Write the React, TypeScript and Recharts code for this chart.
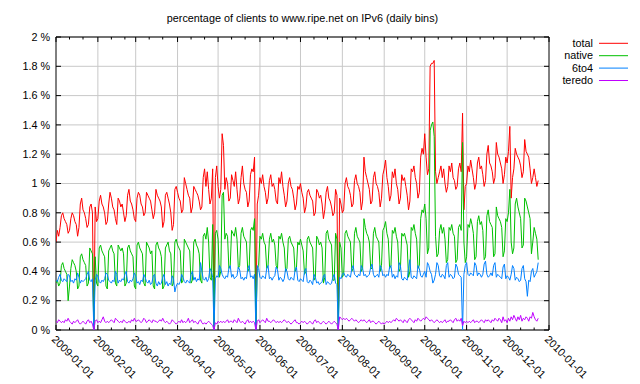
import { LineChart, Line, XAxis, YAxis, CartesianGrid, ReferenceLine } from 'recharts'

// daily values in hundredths of a percent, 2009-01-01 onwards (Thu, Fri, Sat, Sun, then Mon..Sun rows)
const totalPct = [
  60, 68, 64, 70,
  78, 80, 76, 74, 72, 66, 68,
  76, 80, 78, 74, 72, 64, 70,
  86, 90, 82, 80, 76, 70, 72,
  84, 86, 80, 0, 84, 74, 76,
  88, 92, 86, 84, 80, 72, 74,
  86, 94, 90, 84, 82, 76, 72,
  90, 88, 84, 86, 80, 74, 78,
  92, 96, 88, 86, 82, 76, 74,
  90, 94, 92, 86, 84, 78, 80,
  94, 92, 90, 88, 82, 76, 80,
  96, 92, 90, 88, 84, 70, 74,
  92, 94, 90, 86, 80, 68, 72,
  96, 98, 94, 90, 88, 80, 82,
  104, 100, 96, 92, 90, 80, 84,
  98, 96, 94, 92, 88, 82, 84,
  104, 110, 98, 108, 96, 86, 90,
  110, 0, 104, 112, 98, 90, 96,
  134, 126, 96, 104, 100, 88, 90,
  106, 102, 98, 108, 96, 86, 90,
  104, 112, 100, 96, 94, 84, 88,
  106, 110, 108, 118, 0, 86, 92,
  104, 100, 106, 98, 94, 86, 90,
  102, 106, 98, 100, 96, 88, 86,
  104, 100, 108, 98, 92, 84, 88,
  100, 104, 98, 96, 90, 82, 86,
  98, 96, 100, 94, 90, 80, 84,
  94, 96, 92, 90, 88, 78, 80,
  96, 94, 90, 92, 86, 76, 82,
  94, 98, 90, 88, 84, 78, 80,
  96, 92, 0, 90, 86, 80, 82,
  100, 104, 98, 96, 92, 84, 86,
  102, 106, 100, 98, 94, 82, 88,
  118, 108, 104, 100, 96, 86, 88,
  104, 108, 100, 98, 94, 84, 90,
  106, 110, 116, 104, 98, 88, 92,
  108, 104, 110, 100, 96, 86, 90,
  106, 102, 104, 98, 92, 82, 88,
  110, 108, 112, 104, 100, 90, 94,
  118, 124, 120, 134, 118, 106, 110,
  180, 182, 182, 184, 108, 100, 104,
  108, 112, 104, 110, 100, 94, 98,
  112, 108, 114, 104, 102, 96, 98,
  110, 114, 108, 148, 82, 98, 100,
  112, 108, 116, 110, 104, 96, 100,
  114, 118, 110, 112, 106, 98, 102,
  120, 126, 114, 112, 108, 100, 104,
  128, 120, 118, 114, 110, 100, 106,
  118, 114, 122, 139, 90, 104, 110,
  124, 120, 118, 116, 112, 104, 108,
  130, 122, 120, 118, 110, 100, 104,
  110, 104, 98, 102,
]

const nativePct = [
  32, 34, 30, 32,
  44, 46, 42, 40, 38, 20, 30,
  42, 48, 46, 44, 40, 28, 30,
  50, 52, 48, 46, 44, 30, 32,
  56, 54, 52, 0, 50, 32, 30,
  56, 58, 54, 52, 50, 30, 28,
  54, 56, 58, 54, 52, 32, 30,
  58, 56, 54, 56, 52, 30, 32,
  56, 58, 54, 52, 50, 30, 28,
  58, 60, 56, 54, 52, 32, 30,
  60, 58, 56, 52, 54, 30, 28,
  58, 60, 56, 54, 50, 28, 30,
  56, 58, 60, 54, 52, 30, 32,
  60, 62, 58, 56, 54, 32, 34,
  62, 60, 58, 56, 54, 32, 34,
  60, 62, 58, 56, 52, 34, 32,
  64, 66, 62, 70, 60, 36, 34,
  72, 0, 66, 68, 62, 36, 40,
  92, 94, 62, 66, 64, 42, 44,
  68, 66, 64, 70, 62, 42, 44,
  66, 70, 64, 62, 60, 40, 42,
  68, 70, 68, 76, 0, 42, 44,
  64, 62, 66, 60, 58, 42, 44,
  62, 66, 60, 62, 58, 44, 42,
  64, 62, 66, 60, 56, 40, 42,
  62, 64, 60, 58, 56, 40, 42,
  60, 58, 62, 58, 54, 38, 40,
  62, 64, 60, 58, 56, 34, 36,
  64, 62, 58, 60, 56, 32, 36,
  66, 68, 62, 60, 58, 34, 34,
  66, 62, 0, 60, 56, 36, 38,
  66, 68, 64, 62, 60, 40, 42,
  66, 70, 64, 62, 60, 40, 42,
  76, 70, 66, 64, 60, 42, 42,
  66, 70, 64, 62, 60, 40, 44,
  68, 70, 74, 66, 62, 42, 44,
  68, 66, 70, 64, 60, 40, 42,
  66, 64, 66, 62, 58, 36, 40,
  70, 68, 72, 66, 62, 42, 44,
  76, 82, 80, 86, 76, 52, 56,
  136, 140, 142, 132, 64, 50, 52,
  68, 72, 66, 70, 62, 46, 48,
  70, 68, 72, 66, 64, 46, 48,
  70, 72, 68, 128, 60, 46, 50,
  72, 70, 76, 72, 66, 48, 50,
  74, 78, 72, 74, 68, 48, 50,
  78, 82, 74, 72, 70, 50, 52,
  84, 78, 76, 74, 70, 50, 54,
  76, 74, 80, 96, 60, 52, 56,
  86, 90, 84, 80, 76, 56, 58,
  90, 88, 84, 80, 76, 52, 60,
  70, 66, 62, 48,
]

const sixto4Pct = [
  34, 33, 36, 38,
  34, 33, 35, 34, 33, 38, 37,
  33, 34, 32, 35, 34, 39, 36,
  32, 34, 33, 34, 35, 38, 40,
  34, 33, 35, 0, 34, 38, 37,
  33, 32, 34, 33, 35, 39, 38,
  34, 33, 32, 34, 33, 40, 38,
  32, 34, 33, 35, 34, 38, 40,
  33, 32, 34, 33, 35, 39, 37,
  32, 33, 31, 34, 33, 38, 36,
  33, 32, 34, 31, 32, 37, 38,
  32, 30, 33, 31, 32, 36, 38,
  31, 33, 30, 32, 31, 37, 35,
  26, 30, 32, 31, 33, 38, 36,
  33, 32, 34, 33, 32, 38, 40,
  34, 36, 33, 35, 34, 46, 40,
  35, 34, 36, 33, 35, 42, 40,
  36, 0, 35, 37, 36, 44, 42,
  38, 36, 35, 37, 36, 42, 44,
  36, 38, 35, 36, 37, 43, 41,
  35, 36, 34, 36, 35, 42, 44,
  36, 37, 35, 38, 0, 44, 42,
  36, 35, 37, 36, 35, 42, 44,
  35, 36, 34, 36, 37, 43, 41,
  34, 36, 35, 33, 35, 42, 40,
  35, 34, 36, 35, 34, 41, 43,
  34, 33, 35, 34, 33, 40, 42,
  33, 32, 34, 33, 31, 38, 36,
  32, 33, 31, 32, 33, 37, 38,
  31, 33, 32, 31, 32, 36, 38,
  32, 31, 0, 36, 35, 38, 39,
  37, 36, 38, 37, 36, 42, 44,
  38, 37, 36, 38, 37, 44, 42,
  37, 38, 36, 37, 38, 43, 45,
  38, 36, 37, 38, 36, 44, 42,
  37, 38, 36, 38, 37, 43, 44,
  36, 38, 35, 37, 36, 46, 44,
  35, 34, 36, 35, 34, 42, 48,
  36, 35, 37, 36, 35, 44, 42,
  37, 36, 38, 40, 36, 46, 44,
  40, 38, 32, 34, 38, 46, 44,
  37, 36, 38, 37, 35, 44, 46,
  36, 38, 37, 35, 36, 45, 43,
  38, 37, 36, 0, 38, 44, 46,
  38, 37, 39, 38, 37, 46, 44,
  37, 39, 38, 36, 38, 45, 47,
  38, 36, 37, 39, 37, 44, 46,
  36, 38, 37, 36, 35, 43, 45,
  35, 37, 36, 34, 38, 44, 42,
  34, 36, 35, 33, 34, 42, 44,
  35, 33, 23, 34, 33, 40, 42,
  36, 38, 40, 46,
]

const teredoPct = [
  6, 5, 7, 6,
  5, 6, 5, 7, 6, 8, 6,
  5, 4, 6, 5, 6, 7, 5,
  4, 5, 6, 5, 4, 6, 7,
  5, 6, 4, 0, 6, 7, 5,
  6, 5, 7, 9, 6, 5, 6,
  5, 6, 7, 6, 5, 8, 7,
  6, 5, 6, 5, 7, 6, 5,
  5, 6, 5, 7, 6, 8, 6,
  6, 7, 6, 5, 6, 8, 7,
  5, 6, 7, 6, 5, 7, 6,
  6, 5, 6, 7, 6, 8, 6,
  5, 6, 5, 4, 5, 7, 6,
  5, 4, 5, 6, 5, 7, 5,
  6, 5, 6, 8, 5, 6, 7,
  5, 6, 5, 4, 6, 7, 5,
  4, 5, 4, 5, 6, 5, 4,
  3, 0, 5, 4, 6, 5, 6,
  5, 6, 5, 6, 7, 5, 6,
  6, 5, 7, 6, 5, 8, 6,
  5, 6, 5, 4, 6, 7, 5,
  6, 5, 6, 5, 0, 6, 7,
  5, 6, 7, 6, 5, 8, 6,
  6, 5, 6, 7, 6, 5, 6,
  5, 6, 5, 6, 7, 6, 5,
  6, 5, 4, 5, 6, 7, 5,
  5, 4, 5, 6, 5, 6, 5,
  4, 5, 6, 5, 4, 6, 7,
  5, 6, 5, 4, 5, 6, 5,
  4, 5, 6, 5, 4, 5, 6,
  5, 4, 0, 9, 8, 7, 8,
  7, 8, 7, 6, 7, 8, 7,
  6, 7, 6, 5, 6, 7, 6,
  7, 6, 5, 6, 7, 5, 6,
  6, 5, 4, 5, 6, 5, 4,
  5, 4, 5, 6, 5, 6, 5,
  6, 7, 6, 8, 7, 6, 7,
  6, 5, 7, 6, 5, 7, 8,
  7, 6, 5, 7, 6, 8, 7,
  6, 7, 8, 7, 9, 8, 7,
  6, 7, 6, 5, 6, 7, 6,
  5, 6, 5, 6, 7, 5, 6,
  6, 7, 6, 5, 7, 8, 6,
  7, 6, 8, 3, 6, 5, 6,
  5, 6, 5, 6, 7, 5, 6,
  6, 5, 6, 7, 6, 5, 7,
  6, 7, 6, 5, 7, 6, 8,
  7, 6, 8, 7, 5, 9, 6,
  7, 5, 8, 6, 9, 7, 10,
  8, 6, 9, 7, 10, 6, 8,
  7, 9, 8, 6, 9, 8, 12,
  9, 7, 6, 8,
]

// day-of-year of each month start, 2009-01-01 .. 2010-01-01
const monthStarts = [0, 31, 59, 90, 120, 151, 181, 212, 243, 273, 304, 334, 365]
const monthLabels = [
  '2009-01-01', '2009-02-01', '2009-03-01', '2009-04-01', '2009-05-01', '2009-06-01',
  '2009-07-01', '2009-08-01', '2009-09-01', '2009-10-01', '2009-11-01', '2009-12-01', '2010-01-01',
]
const yTicks = [0, 0.2, 0.4, 0.6, 0.8, 1, 1.2, 1.4, 1.6, 1.8, 2]
const yTickLabels = ['0 %', '0.2 %', '0.4 %', '0.6 %', '0.8 %', '1 %', '1.2 %', '1.4 %', '1.6 %', '1.8 %', '2 %']

const seriesNames = ['total', 'native', '6to4', 'teredo']
const seriesColors = ['#ff0000', '#00c000', '#0080ff', '#c000ff']

const W = 640
const H = 384
const PLOT = { top: 37, right: 549, bottom: 330, left: 56 }
const FONT = '"Liberation Sans", Arial, Helvetica, sans-serif'

const chartData = totalPct.map((v, i) => ({
  day: i,
  total: v / 100,
  native: nativePct[i] / 100,
  sixto4: sixto4Pct[i] / 100,
  teredo: teredoPct[i] / 100,
}))

const minorTicks = monthStarts.slice(0, -1).flatMap(m => [m + 10, m + 20])
const xTicks = [...monthStarts, ...minorTicks].sort((a, b) => a - b)

function XTick(props: any) {
  const { x, payload } = props
  const idx = monthStarts.indexOf(payload.value)
  const len = idx >= 0 ? 5 : 2.5
  return (
    <g>
      <line x1={x} x2={x} y1={PLOT.bottom} y2={PLOT.bottom - len} stroke="#000" />
      <line x1={x} x2={x} y1={PLOT.top} y2={PLOT.top + len} stroke="#000" />
      {idx >= 0 && (
        <text
          transform={`translate(${x - 5},${PLOT.bottom + 10}) rotate(45)`}
          fontSize={10.8}
          fontFamily={FONT}
          fill="#000"
        >
          {monthLabels[idx]}
        </text>
      )}
    </g>
  )
}

function YTick(props: any) {
  const { y, index } = props
  return (
    <g>
      <line x1={PLOT.left} x2={PLOT.left + 5} y1={y} y2={y} stroke="#000" />
      <line x1={PLOT.right - 5} x2={PLOT.right} y1={y} y2={y} stroke="#000" />
      <text x={PLOT.left - 6} y={y} dy="0.35em" textAnchor="end" fontSize={10.8} fontFamily={FONT} fill="#000">
        {yTickLabels[index]}
      </text>
    </g>
  )
}

export default function App() {
  const keys = ['total', 'native', 'sixto4', 'teredo']
  return (
    <div style={{ position: 'absolute', left: 0, top: 0, width: W, height: H, background: '#fff' }}>
      <LineChart
        width={W}
        height={H}
        data={chartData}
        margin={{ top: PLOT.top, right: W - PLOT.right, bottom: H - PLOT.bottom, left: PLOT.left }}
      >
        <CartesianGrid vertical={false} stroke="#c8c8c8" />
        {monthStarts.slice(1, -1).map(m => (
          <ReferenceLine key={m} x={m} stroke="#c8c8c8" zIndex={-50} />
        ))}
        <XAxis
          dataKey="day"
          type="number"
          domain={[0, 365]}
          ticks={xTicks}
          interval={0}
          mirror
          height={1}
          axisLine={false}
          tickLine={false}
          tick={XTick}
          allowDataOverflow
        />
        <YAxis
          type="number"
          domain={[0, 2]}
          ticks={yTicks}
          interval={0}
          mirror
          width={1}
          axisLine={false}
          tickLine={false}
          tick={YTick}
          allowDataOverflow
        />
        <ReferenceLine y={2} stroke="#000" />
        <ReferenceLine y={0} stroke="#000" />
        <ReferenceLine x={0} stroke="#000" />
        <ReferenceLine x={365} stroke="#000" />
        {keys.map((k, i) => (
          <Line
            key={k}
            type="linear"
            dataKey={k}
            stroke={seriesColors[i]}
            strokeWidth={1}
            dot={false}
            activeDot={false}
            isAnimationActive={false}
          />
        ))}
      </LineChart>
      <svg width={W} height={H} style={{ position: 'absolute', left: 0, top: 0, pointerEvents: 'none' }}>
        <text x={(PLOT.left + PLOT.right) / 2} y={22} textAnchor="middle" fontSize={10.8} fontFamily={FONT} fill="#000">
          percentage of clients to www.ripe.net on IPv6 (daily bins)
        </text>
        {seriesNames.map((name, i) => {
          const cy = 43.3 + i * 12.4
          return (
            <g key={name}>
              <text x={593} y={cy} dy="0.35em" textAnchor="end" fontSize={10.8} fontFamily={FONT} fill="#000">
                {name}
              </text>
              <line x1={599} x2={628} y1={cy} y2={cy} stroke={seriesColors[i]} strokeWidth={1} />
            </g>
          )
        })}
      </svg>
    </div>
  )
}
